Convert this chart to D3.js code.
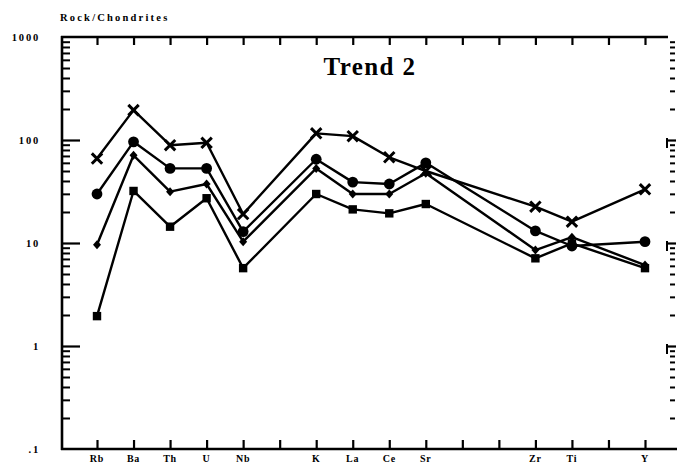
<!DOCTYPE html>
<html><head><meta charset="utf-8">
<script src="https://cdn.jsdelivr.net/npm/d3@7/dist/d3.min.js"></script>
<style>body{margin:0;background:#fff}svg{display:block}text{font-family:"Liberation Serif","Times New Roman",serif;font-weight:bold;fill:#000}</style>
</head><body><svg id="c" width="677" height="463"></svg>
<script>
const categories = ["Rb","Ba","Th","U","Nb","","K","La","Ce","Sr","","","Zr","Ti","","Y"];
const elements = ["Rb","Ba","Th","U","Nb","K","La","Ce","Sr","Zr","Ti","Y"];
const seriesCross   = [66,195,89,94,19.1,116,109,68,50,22.5,16.1,33.2];
const seriesCircle  = [29.9,96,53,53,12.9,65,39,37.4,60,13.1,9.35,10.3];
const seriesDiamond = [9.6,71,31.5,37.4,10.3,53,29.9,29.9,47.5,8.55,11.4,6.1];
const seriesSquare  = [1.95,32,14.4,27.2,5.7,29.9,21.2,19.4,23.9,7.1,9.9,5.7];
const yTickValues = [0.1,1,10,100,1000];
const yTickLabels = [".1","1","10","100","1000"];
const chartTitle = "Trend 2";
const yTitle = "Rock/Chondrites";

(function(){
const svg = d3.select("#c");
const pL = 62, pR = 667, pT = 37, pB = 449;
const x = d3.scaleLinear().domain([0,15]).range([97,645]);
const y = d3.scaleLog().domain([0.1,1000]).range([pB, pT]);

const minor = [];
[0.1,1,10,100].forEach(d=>{for(let k=2;k<=9;k++) minor.push(d*k);});

svg.append("line").attr("x1",pL).attr("x2",pL).attr("y1",pT-1).attr("y2",pB+1).attr("stroke","#000").attr("stroke-width",2.6);
svg.append("line").attr("x1",pL-1).attr("x2",677).attr("y1",pB).attr("y2",pB).attr("stroke","#000").attr("stroke-width",2.6);
svg.append("line").attr("x1",pL-1).attr("x2",pR+1).attr("y1",pT).attr("y2",pT).attr("stroke","#000").attr("stroke-width",2.4);

const gL = svg.append("g").attr("transform",`translate(${pL},0)`).call(d3.axisRight(y).tickValues(yTickValues.slice(1,4)).tickSize(18).tickFormat(""));
gL.select(".domain").remove();
gL.selectAll("line").attr("stroke-width",2.2);
const gLm = svg.append("g").attr("transform",`translate(${pL},0)`).call(d3.axisRight(y).tickValues(minor).tickSize(8).tickFormat(""));
gLm.select(".domain").remove();
gLm.selectAll("line").attr("stroke-width",2);

const gR = svg.append("g").attr("transform",`translate(${pR},0)`).call(d3.axisRight(y).tickValues(yTickValues.slice(1,4)).tickSize(9).tickFormat(""));
gR.select(".domain").remove();
gR.selectAll("line").attr("stroke-width",2.2);
const gRm = svg.append("g").attr("transform",`translate(${pR+3},0)`).call(d3.axisRight(y).tickValues(minor).tickSize(5).tickFormat(""));
gRm.select(".domain").remove();
gRm.selectAll("line").attr("stroke-width",2);
svg.append("g").selectAll("line").data(yTickValues.slice(1,4)).join("line")
  .attr("x1",pR).attr("x2",pR).attr("y1",d=>y(d)-2).attr("y2",d=>y(d)+8).attr("stroke","#000").attr("stroke-width",2);

svg.append("g").selectAll("text").data(yTickValues).join("text")
  .attr("x",40).attr("y",d=>y(d)+4).attr("text-anchor","end")
  .attr("font-size",10.5).attr("letter-spacing",1.8)
  .text((d,i)=>yTickLabels[i]);

const idx = d3.range(categories.length);
const gB = svg.append("g").attr("transform",`translate(0,${pB})`).call(d3.axisTop(x).tickValues(idx).tickSize(9).tickFormat(""));
gB.select(".domain").remove(); gB.selectAll("line").attr("stroke-width",2.2);
const gT = svg.append("g").attr("transform",`translate(0,${pT})`).call(d3.axisBottom(x).tickValues(idx).tickSize(8).tickFormat(""));
gT.select(".domain").remove(); gT.selectAll("line").attr("stroke-width",2.2);

svg.append("g").selectAll("text").data(idx).join("text")
  .attr("x",d=>x(d)).attr("y",461.5).attr("text-anchor","middle")
  .attr("font-size",10).attr("letter-spacing",0.8).text(d=>categories[d]);

svg.append("text").attr("x",60).attr("y",21).attr("font-size",10.5).attr("letter-spacing",2.2).text(yTitle);
svg.append("text").attr("x",370).attr("y",75).attr("text-anchor","middle").attr("font-size",25).attr("letter-spacing",1.4).text(chartTitle);

const pos = elements.map(e=>categories.indexOf(e));
const line = d3.line().x(d=>x(d[0])).y(d=>y(d[1]));
const series = [
  {vals:seriesSquare, m:"square"},
  {vals:seriesDiamond, m:"diamond"},
  {vals:seriesCircle, m:"circle"},
  {vals:seriesCross, m:"cross"}
];
series.forEach(s=>{
  const pts = s.vals.map((v,i)=>[pos[i],v]);
  svg.append("path").attr("d",line(pts)).attr("fill","none").attr("stroke","#000").attr("stroke-width",2.4).attr("stroke-linejoin","round");
  const g = svg.append("g");
  pts.forEach(p=>{
    const cx = x(p[0]), cy = y(p[1]);
    if(s.m==="circle"){
      g.append("circle").attr("cx",cx).attr("cy",cy).attr("r",5.4).attr("fill","#000");
    } else if(s.m==="square"){
      g.append("rect").attr("x",cx-4.2).attr("y",cy-4.2).attr("width",8.4).attr("height",8.4).attr("fill","#000");
    } else if(s.m==="diamond"){
      g.append("path").attr("d",`M${cx},${cy-4.5}L${cx+4},${cy}L${cx},${cy+4.5}L${cx-4},${cy}Z`).attr("fill","#000");
    } else {
      const r=5.2;
      g.append("path").attr("d",`M${cx-r},${cy-r}L${cx+r},${cy+r}M${cx-r},${cy+r}L${cx+r},${cy-r}`).attr("stroke","#000").attr("stroke-width",3);
    }
  });
});
})();
</script></body></html>
